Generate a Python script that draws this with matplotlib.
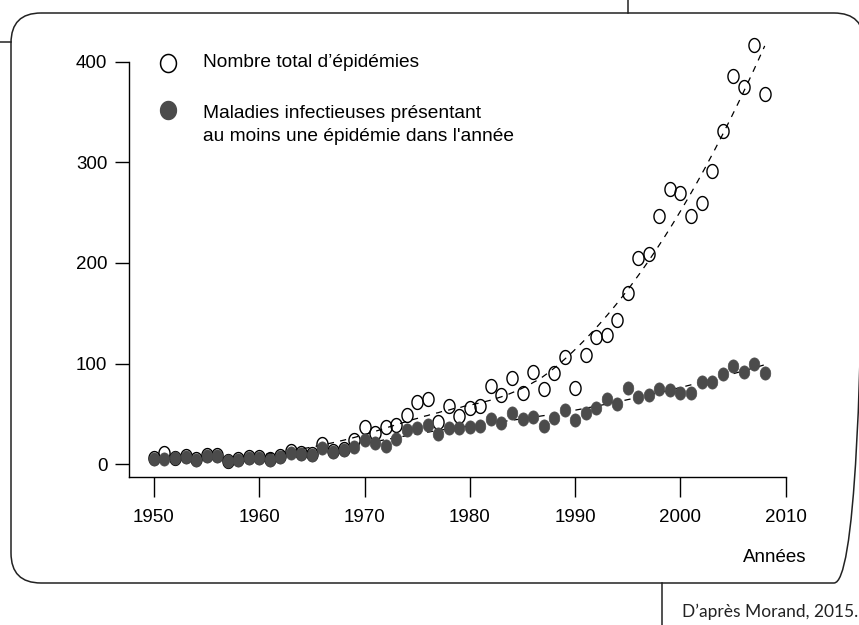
import numpy as np
import matplotlib
matplotlib.use("Agg")
import matplotlib.pyplot as plt
from matplotlib.path import Path
from matplotlib.patches import FancyBboxPatch

plt.rcParams['font.family'] = ['Liberation Sans', 'DejaVu Sans']

# ---------------- data ----------------
years = list(range(1950, 2009))
total_epidemies = [6, 11, 6, 8, 5, 9, 9, 3, 5, 7,
                   7, 5, 8, 13, 11, 10, 20, 13, 15, 24,
                   37, 31, 37, 39, 49, 62, 65, 42, 58, 48,
                   56, 58, 78, 69, 86, 71, 92, 75, 91, 106,
                   76, 108, 126, 128, 143, 170, 205, 209, 247, 274,
                   270, 247, 260, 292, 331, 386, 375, 417, 368]
maladies = [5, 5, 6, 7, 4, 8, 8, 3, 4, 6,
            6, 4, 7, 11, 10, 9, 16, 12, 14, 17,
            24, 21, 18, 25, 34, 36, 39, 30, 36, 36,
            37, 38, 45, 41, 51, 45, 47, 38, 46, 54,
            44, 51, 56, 65, 60, 76, 67, 69, 75, 74,
            71, 71, 82, 82, 90, 98, 92, 100, 91]
x_ticks = [1950, 1960, 1970, 1980, 1990, 2000, 2010]
y_ticks = [0, 100, 200, 300, 400]
label_total = "Nombre total d\u2019épidémies"
label_mal = ["Maladies infectieuses présentant", "au moins une épidémie dans l'année"]
x_label = "Années"
source = "D\u2019après Morand, 2015."


def loess(x, y, xs, span=0.75, degree=2):
    x = np.asarray(x, float)
    y = np.asarray(y, float)
    q = int(np.floor(len(x) * span))
    out = []
    for x0 in xs:
        d = np.abs(x - x0)
        h = np.sort(d)[q - 1]
        w = np.clip(1 - (d / h) ** 3, 0, None) ** 3
        X = np.vander(x - x0, degree + 1)
        sw = np.sqrt(w)
        beta = np.linalg.lstsq(X * sw[:, None], y * sw, rcond=None)[0]
        out.append(beta[-1])
    return np.array(out)


def ellipse_marker(ratio):
    t = np.linspace(0, 2 * np.pi, 80)
    verts = np.column_stack([ratio * np.cos(t), np.sin(t)])
    return Path(verts, closed=True)


ell = ellipse_marker(0.8)
ell_leg = ellipse_marker(0.88)
dark = '#4b4b4b'

fig = plt.figure(figsize=(8.59, 6.25), dpi=100)

# background / page decoration in pixel coordinates
bg = fig.add_axes([0, 0, 1, 1], zorder=0)
bg.set_xlim(0, 859)
bg.set_ylim(625, 0)
bg.axis('off')
bg.add_patch(FancyBboxPatch((11, 13), 853, 570,
                            boxstyle='round,pad=0,rounding_size=30',
                            fill=False, lw=1.1, ec='#222222', clip_on=False))
bg.plot([0, 11], [42, 42], color='#222222', lw=1.1)
bg.plot([628, 628], [0, 13], color='#222222', lw=1.1)
bg.plot([662, 662], [583, 625], color='#222222', lw=1.1)
bg.text(682, 617, source, family=['Lato', 'DejaVu Sans'], fontsize=12.5,
        ha='left', va='baseline', color='#222222')
bg.text(775, 558, x_label, fontsize=13.5, ha='center', va='center')

# legend
bg.plot([168], [63], ls='none', marker=ell_leg, ms=13, mfc='none', mec='black', mew=1.1)
bg.plot([168], [110], ls='none', marker=ell_leg, ms=13, mfc=dark, mec=dark)
bg.text(203, 67.3, label_total, fontsize=13.8, va='baseline', ha='left')
bg.text(203, 118.3, label_mal[0], fontsize=13.8, va='baseline', ha='left')
bg.text(203, 141, label_mal[1], fontsize=13.8, va='baseline', ha='left')

# main plot
ax = fig.add_axes([129 / 859, 148 / 625, 667.3 / 859, 445.2 / 625], zorder=1)
ax.patch.set_alpha(0)
x0lim = 1947.63
ax.set_xlim(x0lim, 2011)
ax.set_ylim(-12.9, 430)

xs = np.linspace(years[0], years[-1], 300)
fit_total = loess(years, total_epidemies, xs)
fit_mal = loess(years, maladies, xs)

ax.plot(years, total_epidemies, ls='none', marker=ell, ms=10, mfc='none',
        mec='black', mew=1.0, zorder=2, clip_on=False)
ax.plot(xs, fit_total, color='black', lw=0.9, ls=(0, (5, 5)), zorder=3)
ax.plot(xs, fit_mal, color='black', lw=0.9, ls=(0, (5, 5)), zorder=3)
ax.plot(years, maladies, ls='none', marker=ell, ms=9.5, mfc=dark,
        mec=dark, mew=0.5, zorder=4, clip_on=False)

for s in ['top', 'right']:
    ax.spines[s].set_visible(False)
ax.spines['left'].set_bounds(-12.9, 400)
ax.spines['bottom'].set_bounds(x0lim, 2010)
for s in ['left', 'bottom']:
    ax.spines[s].set_linewidth(1.0)
ax.set_xticks(x_ticks)
ax.set_yticks(y_ticks)
ax.tick_params(axis='y', length=10, width=1, pad=5.5, labelsize=13.5)
ax.tick_params(axis='x', length=14.4, width=1, pad=9, labelsize=13.5)

fig.savefig('out.png', dpi=100)
